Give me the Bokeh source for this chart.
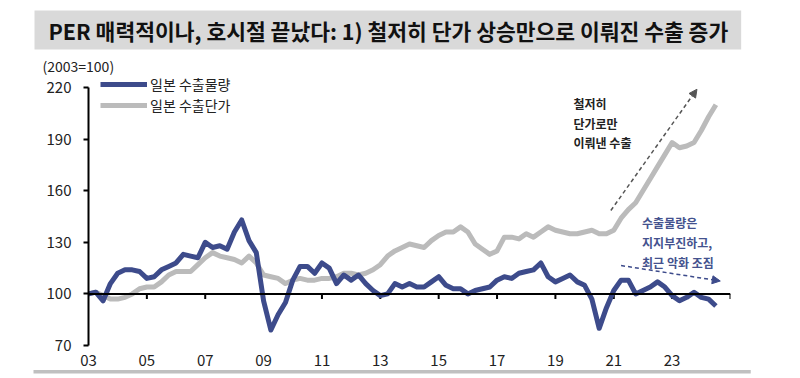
import pandas as pd
from bokeh.plotting import figure
from bokeh.models import (Legend, LegendItem, Label, Arrow, NormalHead, Span,
                          FixedTicker, Title)
from bokeh.embed import file_html
from bokeh.resources import INLINE

# ---------------- data ----------------
quarters = pd.period_range("2003Q1", "2024Q3", freq="Q")
t = [q.year + (q.quarter - 1) / 4 for q in quarters]

volume = [
    100, 101, 96, 106,
    112, 114, 114, 113,
    109, 110, 114, 116,
    118, 123, 122, 121,
    130, 127, 128, 126,
    136, 143, 131, 124,
    96, 79, 88, 95,
    108, 116, 116, 112,
    118, 115, 106, 111,
    108, 111, 106, 102,
    99, 100, 106, 104,
    106, 104, 104, 107,
    110, 105, 103, 103,
    100, 102, 103, 104,
    108, 110, 109, 112,
    113, 114, 118, 110,
    107, 109, 111, 107,
    105, 97, 80, 92,
    102, 108, 108, 100,
    102, 104, 107, 104,
    99, 96, 98, 101,
    98, 97, 93,
]

price = [
    100, 101, 99, 97,
    97, 98, 100, 103,
    104, 104, 107, 111,
    113, 113, 113, 117,
    121, 124, 122, 121,
    120, 118, 122, 118,
    111, 110, 109, 106,
    108, 109, 108, 108,
    109, 109, 110, 112,
    112, 111, 112, 114,
    117, 122, 125, 127,
    129, 128, 127, 131,
    134, 136, 136, 139,
    136, 129, 126, 123,
    125, 133, 133, 132,
    135, 133, 136, 139,
    137, 136, 135, 135,
    136, 137, 135, 135,
    137, 144, 149, 153,
    160, 167, 174, 181,
    188, 185, 186, 188,
    195, 203, 210,
]

x_ticks = [2003, 2005, 2007, 2009, 2011, 2013, 2015, 2017, 2019, 2021, 2023]
x_tick_labels = ["03", "05", "07", "09", "11", "13", "15", "17", "19", "21", "23"]
x_tick_marks = [2005, 2007, 2009, 2011, 2013, 2015, 2017, 2019, 2021, 2023, 2025]
y_ticks = [70, 100, 130, 160, 190, 220]

series_names = ["일본 수출물량", "일본 수출단가"]
title_text = "PER 매력적이나, 호시절 끝났다: 1) 철저히 단가 상승만으로 이뤄진 수출 증가"
unit_text = "(2003=100)"
note_price = ["철저히", "단가로만", "이뤄낸 수출"]
note_volume = ["수출물량은", "지지부진하고,", "최근 악화 조짐"]

BLUE = "#3D4B8B"
GRAY = "#BBBBBB"
FONT = "Noto Sans CJK KR"

# ---------------- main chart ----------------
p = figure(width=800, height=378, x_range=(2003, 2025), y_range=(70, 227),
           output_backend="svg", toolbar_location=None,
           min_border_left=88, min_border_right=70,
           min_border_top=75, min_border_bottom=33)
p.outline_line_color = None
p.xgrid.visible = False
p.ygrid.visible = False

p.xaxis.ticker = FixedTicker(ticks=x_ticks)
p.xaxis.major_label_overrides = dict(zip(x_ticks, x_tick_labels))
p.xaxis.axis_line_color = None
p.xaxis.major_tick_line_color = None
p.xaxis.minor_tick_line_color = None
p.xaxis.major_tick_out = 0
p.xaxis.major_label_standoff = 9
p.xaxis.major_label_text_font = FONT
p.xaxis.major_label_text_font_size = "15px"
p.xaxis.major_label_text_color = "#222222"

p.yaxis.ticker = FixedTicker(ticks=y_ticks)
p.yaxis.bounds = (70, 220)
p.yaxis.axis_line_width = 2
p.yaxis.axis_line_color = "black"
p.yaxis.major_tick_line_width = 2
p.yaxis.major_tick_line_color = "black"
p.yaxis.major_tick_out = 5
p.yaxis.major_tick_in = 0
p.yaxis.minor_tick_line_color = None
p.yaxis.major_label_standoff = 12
p.yaxis.major_label_text_font = FONT
p.yaxis.major_label_text_font_size = "15px"
p.yaxis.major_label_text_color = "#222222"

p.add_layout(Span(location=100, dimension="width", line_color="black", line_width=2))
p.segment(x0=x_tick_marks, y0=[100] * len(x_tick_marks),
          x1=x_tick_marks, y1=[97] * len(x_tick_marks),
          line_color="black", line_width=2)

r_price = p.line(t, price, line_color=GRAY, line_width=5, line_join="round")
r_vol = p.line(t, volume, line_color=BLUE, line_width=5, line_join="round")

legend = Legend(items=[LegendItem(label=series_names[0], renderers=[r_vol]),
                       LegendItem(label=series_names[1], renderers=[r_price])],
                location=(12, 230), padding=0, margin=0, spacing=1,
                glyph_width=47, glyph_height=18, label_height=18,
                label_standoff=3, border_line_color=None,
                background_fill_alpha=0,
                label_text_font=FONT, label_text_font_size="14px",
                label_text_color="#222222")
p.add_layout(legend)

# titles in the top panel
p.add_layout(Title(text=unit_text, align="left", offset=-46, standoff=0,
                   text_font=FONT, text_font_size="14px",
                   text_font_style="normal", text_color="#222222"), "above")
p.add_layout(Title(text=title_text, align="left", offset=-54, standoff=8,
                   text_font=FONT, text_font_size="21.5px", text_font_style="bold",
                   text_color="#111111", background_fill_color="#D9D9D9",
                   padding=dict(left=14, right=13, top=4, bottom=4)), "above")

# thin grey rule under the chart (background of a blank bottom title)
p.add_layout(Title(text=" ", align="left", offset=-55, standoff=0,
                   text_font=FONT, text_font_size="1px",
                   background_fill_color="#C0C0C0",
                   padding=dict(left=0, right=717, top=1, bottom=1)), "below")

p.add_layout(Arrow(end=NormalHead(size=8, fill_color="#555555", line_color="#555555"),
                   x_start=2020.9, y_start=148.5, x_end=2023.85, y_end=219,
                   line_color="#555555", line_width=1.5, line_dash="4 3"))
p.add_layout(Arrow(end=NormalHead(size=8, fill_color=BLUE, line_color=BLUE),
                   x_start=2021.25, y_start=116.5, x_end=2024.65, y_end=107.5,
                   line_color=BLUE, line_width=1.5, line_dash="4 3"))

for txt, yy in zip(note_price, [211, 199, 188]):
    p.add_layout(Label(x=2019.62, y=yy, text=txt, text_align="left",
                       text_baseline="middle", text_font=FONT,
                       text_font_size="12px", text_font_style="bold",
                       text_color="#222222"))
for txt, yy in zip(note_volume, [141.5, 129.8, 118.2]):
    p.add_layout(Label(x=2021.97, y=yy, text=txt, text_align="left",
                       text_baseline="middle", text_font=FONT,
                       text_font_size="12px", text_font_style="bold",
                       text_color="#44528E"))

open("out.html", "w").write(file_html(p, INLINE))
